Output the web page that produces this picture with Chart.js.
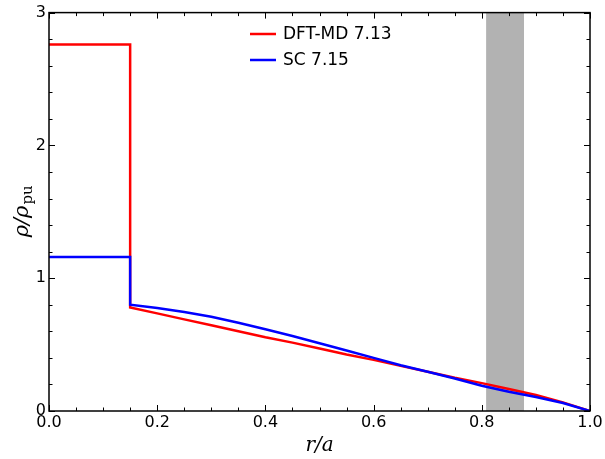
<!DOCTYPE html>
<html>
<head>
<meta charset="utf-8">
<script src="https://cdn.jsdelivr.net/npm/chart.js@4"></script>
<style>
  html, body { margin: 0; padding: 0; background: #fff; }
  #wrap { width: 605px; height: 459px; }
</style>
</head>
<body>
<div id="wrap"><canvas id="densityChart"></canvas></div>
<script>
// radial positions r/a (step at r/a = 0.15)
const radius = [0, 0.15, 0.15, 0.2, 0.25, 0.3, 0.35, 0.4, 0.45, 0.5, 0.55, 0.6, 0.65, 0.7, 0.75, 0.8, 0.85, 0.9, 0.95, 1.0];
const dftMd = [2.76, 2.76, 0.78, 0.735, 0.69, 0.645, 0.60, 0.555, 0.515, 0.47, 0.425, 0.385, 0.34, 0.295, 0.25, 0.21, 0.165, 0.12, 0.065, 0.0];
const scModel = [1.16, 1.16, 0.80, 0.775, 0.745, 0.71, 0.665, 0.615, 0.565, 0.51, 0.455, 0.40, 0.345, 0.295, 0.245, 0.19, 0.145, 0.105, 0.06, 0.0];
const seriesLabels = ['DFT-MD 7.13', 'SC 7.15'];
const seriesColors = ['#ff0000', '#0000ff'];
const shadedBand = [0.808, 0.878];

const toPoints = ys => radius.map((r, i) => ({ x: r, y: ys[i] }));

const bandPlugin = {
  id: 'band',
  beforeDatasetsDraw(chart) {
    const { ctx, chartArea, scales } = chart;
    const x0 = scales.x.getPixelForValue(shadedBand[0]);
    const x1 = scales.x.getPixelForValue(shadedBand[1]);
    ctx.save();
    ctx.fillStyle = '#b2b2b2';
    ctx.fillRect(x0, chartArea.top, x1 - x0, chartArea.bottom - chartArea.top);
    ctx.restore();
  },
};

// inward ticks on all four sides, frame, legend and y title with subscript
const framePlugin = {
  id: 'frame',
  afterDraw(chart) {
    const { ctx, chartArea: a, scales } = chart;
    ctx.save();
    ctx.strokeStyle = '#000';
    ctx.lineWidth = 1.5;
    ctx.strokeRect(a.left, a.top, a.right - a.left, a.bottom - a.top);
    ctx.lineWidth = 1;
    ctx.beginPath();
    for (let i = 0; i <= 20; i++) {
      const px = Math.round(scales.x.getPixelForValue(i * 0.05)) + 0.5;
      const len = i % 4 === 0 ? 6 : 3.5;
      ctx.moveTo(px, a.bottom); ctx.lineTo(px, a.bottom - len);
      ctx.moveTo(px, a.top); ctx.lineTo(px, a.top + len);
    }
    for (let i = 0; i <= 15; i++) {
      const py = Math.round(scales.y.getPixelForValue(i * 0.2)) + 0.5;
      const len = i % 5 === 0 ? 6 : 3.5;
      ctx.moveTo(a.left, py); ctx.lineTo(a.left + len, py);
      ctx.moveTo(a.right, py); ctx.lineTo(a.right - len, py);
    }
    ctx.stroke();

    ctx.font = '17px "DejaVu Sans"';
    ctx.textBaseline = 'middle';
    seriesLabels.forEach((label, i) => {
      const y = 34 + i * 26;
      ctx.strokeStyle = seriesColors[i];
      ctx.lineWidth = 2.5;
      ctx.beginPath();
      ctx.moveTo(250, y); ctx.lineTo(276, y);
      ctx.stroke();
      ctx.fillStyle = '#000';
      ctx.fillText(label, 283, y + 1);
    });

    // y title: ρ/ρ with roman subscript "pu"
    const mainFont = 'italic 21px "DejaVu Serif"';
    const subFont = '15px "DejaVu Serif"';
    ctx.font = mainFont;
    const wMain = ctx.measureText('ρ/ρ').width;
    ctx.font = subFont;
    const wSub = ctx.measureText('pu').width;
    const total = wMain + wSub;
    ctx.translate(28, (a.top + a.bottom) / 2);
    ctx.rotate(-Math.PI / 2);
    ctx.textBaseline = 'alphabetic';
    ctx.textAlign = 'left';
    ctx.fillStyle = '#000';
    ctx.font = mainFont;
    ctx.fillText('ρ/ρ', -total / 2, 0);
    ctx.font = subFont;
    ctx.fillText('pu', -total / 2 + wMain + 1, 4);
    ctx.restore();
  },
};

const ctx = document.getElementById('densityChart').getContext('2d');
const chart = new Chart(ctx, {
  type: 'line',
  data: {
    datasets: [
      {
        label: seriesLabels[0],
        data: toPoints(dftMd),
        borderColor: seriesColors[0],
        borderWidth: 2.5,
        pointRadius: 0,
        order: 1,
      },
      {
        label: seriesLabels[1],
        data: toPoints(scModel),
        borderColor: seriesColors[1],
        borderWidth: 2.5,
        pointRadius: 0,
        order: 0,
      },
    ],
  },
  options: {
    responsive: true,
    maintainAspectRatio: false,
    animation: false,
    layout: { padding: { left: 0, right: 15, top: 11, bottom: 0 } },
    scales: {
      x: {
        type: 'linear',
        min: 0,
        max: 1,
        afterFit: s => { s.height = 48; },
        ticks: {
          stepSize: 0.2,
          color: '#000',
          padding: 2,
          maxRotation: 0,
          font: { family: 'DejaVu Sans', size: 16 },
          callback: v => v.toFixed(1),
        },
        grid: { drawOnChartArea: false, drawTicks: false, tickLength: 0 },
        border: { display: false },
        title: {
          display: true,
          text: 'r/a',
          color: '#000',
          font: { family: 'DejaVu Serif', style: 'italic', size: 20 },
          padding: { top: 0, bottom: 1 },
        },
      },
      y: {
        min: 0,
        max: 3,
        afterFit: s => { s.width = 49; },
        ticks: {
          stepSize: 1,
          color: '#000',
          padding: 3,
          font: { family: 'DejaVu Sans', size: 16 },
        },
        grid: { drawOnChartArea: false, drawTicks: false, tickLength: 0 },
        border: { display: false },
      },
    },
    plugins: {
      legend: { display: false },
      tooltip: { enabled: false },
    },
  },
  plugins: [bandPlugin, framePlugin],
});
</script>
</body>
</html>
